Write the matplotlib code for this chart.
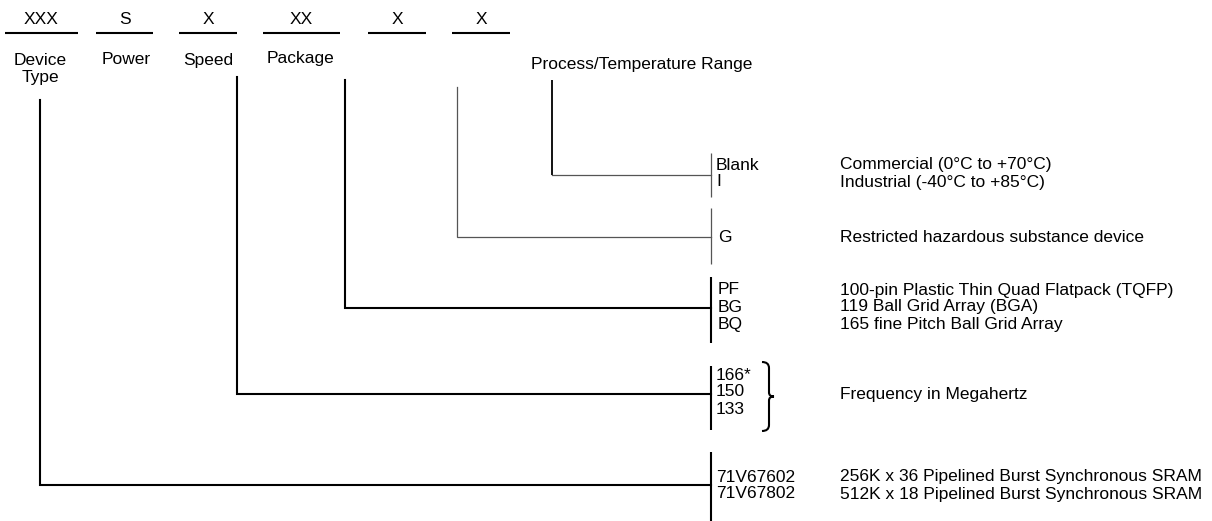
import matplotlib
matplotlib.use("Agg")
import matplotlib.pyplot as plt
from matplotlib.path import Path
import matplotlib.patches as mpatches

plt.rcParams.update({
    "font.family": ["Liberation Sans", "DejaVu Sans"],
    "font.size": 12,
})

# ── ordering code fields ─────────────────────────────────────
FIELD_CODES  = ["XXX", "S", "X", "XX", "X", "X"]
FIELD_NAMES  = ["Device\nType", "Power", "Speed", "Package", "",
                "Process/Temperature Range"]

# ── option groups (code, description) ───────────────────────
TEMP_CODES   = ["Blank", "I"]
TEMP_DESC    = ["Commercial (0°C to +70°C)", "Industrial (-40°C to +85°C)"]
GREEN_CODES  = ["G"]
GREEN_DESC   = ["Restricted hazardous substance device"]
PKG_CODES    = ["PF", "BG", "BQ"]
PKG_DESC     = ["100-pin Plastic Thin Quad Flatpack (TQFP)",
                "119 Ball Grid Array (BGA)",
                "165 fine Pitch Ball Grid Array"]
SPEED_CODES  = ["166*", "150", "133"]
SPEED_DESC   = "Frequency in Megahertz"
DEV_CODES    = ["71V67602", "71V67802"]
DEV_DESC     = ["256K x 36 Pipelined Burst Synchronous SRAM",
                "512K x 18 Pipelined Burst Synchronous SRAM"]

fig = plt.figure(figsize=(12.12, 5.21), dpi=100)
ax = fig.add_axes([0, 0, 1, 1])
ax.set_xlim(0, 1212)
ax.set_ylim(521, 0)
ax.axis("off")

BLK = "#000000"
GRY = "#555555"
FS = 12.5

# top segments with codes
seg_x = [(5, 78), (96, 153), (179, 237), (263, 340), (368, 426), (452, 510)]
for (x0, x1), code in zip(seg_x, FIELD_CODES):
    ax.plot([x0, x1], [33, 33], color=BLK, lw=1.5, solid_capstyle="butt")
    ax.text((x0 + x1) / 2, 20, code, ha="center", va="center", fontsize=FS)

# field names
name_pos = [(40, 69), (126, 60), (208, 60), (300, 59), (396, 60), (642, 64)]
for (x, y), name in zip(name_pos, FIELD_NAMES):
    ax.text(x, y, name, ha="center", va="center", fontsize=FS,
            linespacing=1.12)

BAR_X = 711
TXT_CODE = 716
TXT_DESC = 840
ROW = 17


def connector(xv, ytop, yh, color, lw):
    ax.plot([xv, xv, BAR_X], [ytop, yh, yh], color=color, lw=lw,
            solid_joinstyle="miter")


def bar(y0, y1, color, lw):
    ax.plot([BAR_X, BAR_X], [y0, y1], color=color, lw=lw,
            solid_capstyle="butt")


def rows(codes, descs, y0, dx=0):
    for i, c in enumerate(codes):
        y = y0 + i * ROW
        ax.text(TXT_CODE + dx, y, c, ha="left", va="center", fontsize=FS)
        if descs is not None:
            ax.text(TXT_DESC, y, descs[i], ha="left", va="center",
                    fontsize=FS)


# process / temperature
ax.plot([552, 552], [80, 175], color=BLK, lw=1.3, solid_capstyle="butt")
ax.plot([552, BAR_X], [175, 175], color=GRY, lw=0.9)
bar(153, 197, GRY, 0.9)
rows(TEMP_CODES, TEMP_DESC, 165)

# green
connector(457, 87, 237, GRY, 0.9)
bar(208, 264, GRY, 0.9)
rows(GREEN_CODES, GREEN_DESC, 237, dx=2)

# package
connector(345, 80, 308, BLK, 1.5)
bar(277, 343, BLK, 1.5)
rows(PKG_CODES, PKG_DESC, 290, dx=2)

# speed
connector(237, 77, 394, BLK, 1.5)
bar(366, 430, BLK, 1.5)
rows(SPEED_CODES, None, 375)
ax.text(TXT_DESC, 395, SPEED_DESC, ha="left", va="center", fontsize=FS)

# brace
bx, by0, by1 = 762, 362, 431
ym = (by0 + by1) / 2
verts = [(bx, by0), (bx + 7, by0), (bx + 7, by0 + 6),
         (bx + 7, ym - 4), (bx + 7, ym), (bx + 12, ym),
         (bx + 7, ym), (bx + 7, ym + 4),
         (bx + 7, by1 - 6), (bx + 7, by1), (bx, by1)]
codes = [Path.MOVETO, Path.CURVE3, Path.CURVE3,
         Path.LINETO, Path.CURVE3, Path.CURVE3,
         Path.CURVE3, Path.CURVE3,
         Path.LINETO, Path.CURVE3, Path.CURVE3]
ax.add_patch(mpatches.PathPatch(Path(verts, codes), fill=False,
                                edgecolor=BLK, lw=1.5))

# device type
connector(40, 100, 485, BLK, 1.5)
bar(452, 521, BLK, 1.5)
rows(DEV_CODES, DEV_DESC, 477)

fig.savefig("out.png", dpi=100)
